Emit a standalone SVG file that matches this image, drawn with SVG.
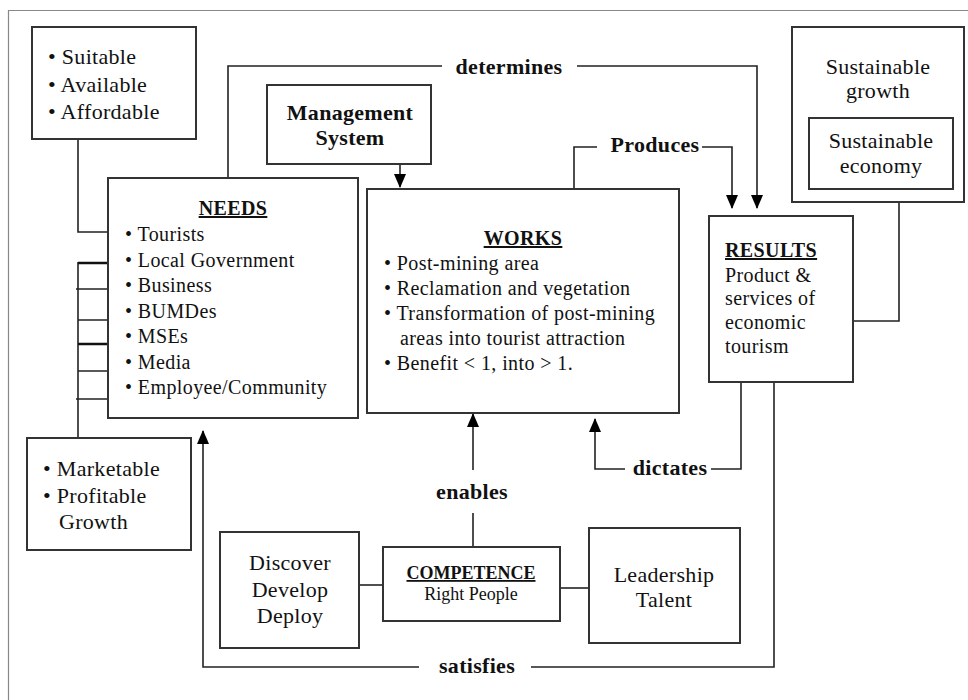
<svg xmlns="http://www.w3.org/2000/svg" width="968" height="700" viewBox="0 0 968 700">
<defs>
<marker id="arr" markerUnits="userSpaceOnUse" markerWidth="12" markerHeight="14" refX="6" refY="13" orient="auto-start-reverse" viewBox="0 0 12 14">
<path d="M0,0 L12,0 L6,13 Z" fill="#000"/>
</marker>
<marker id="up" markerUnits="userSpaceOnUse" markerWidth="12" markerHeight="14" refX="6" refY="1" viewBox="0 0 12 14">
<path d="M6,0 L12,14 L0,14 Z" fill="#000"/>
</marker>
<marker id="down" markerUnits="userSpaceOnUse" markerWidth="12" markerHeight="14" refX="6" refY="13" viewBox="0 0 12 14">
<path d="M0,0 L12,0 L6,14 Z" fill="#000"/>
</marker>
</defs>
<style>
.box{fill:#fff;stroke:#333;stroke-width:2}
.ln{fill:none;stroke:#222;stroke-width:1.6}
.thick{fill:none;stroke:#111;stroke-width:2.6}
text{font-family:"Liberation Serif","Times New Roman",serif;fill:#111}
.t20{font-size:20px;letter-spacing:0.4px}
.t22{font-size:22px;letter-spacing:0.3px}
.t18{font-size:18px}
.b{font-weight:bold}
.lab{font-size:22px;font-weight:bold;letter-spacing:0.3px}
.c{text-anchor:middle}
.u{text-decoration:underline}
</style>
<rect width="968" height="700" fill="#fff"/>
<path d="M8.5,700 V10.5 H968" fill="none" stroke="#888" stroke-width="1.2"/>

<g id="connectors">
<path class="ln" d="M228,178 V66 H442"/>
<path class="ln" d="M577,66 H757 V208" marker-end="url(#down)"/>
<path class="ln" d="M574,189 V147 H597"/>
<path class="ln" d="M702,147 H732 V208" marker-end="url(#down)"/>
<path class="ln" d="M400,164 V187" marker-end="url(#down)"/>
<path class="ln" d="M78,139 V232 H125"/>
<path class="ln" d="M78,262 V438"/>
<path class="thick" d="M78,263 H128"/>
<path class="ln" d="M76,289 H128"/>
<path class="ln" d="M78,320 H130"/>
<path class="thick" d="M78,344 H128"/>
<path class="ln" d="M78,371 H130"/>
<path class="ln" d="M76,399 H131"/>
<path class="ln" d="M853,321 H899 V202"/>
<path class="ln" d="M741,382 V469 H711"/>
<path class="ln" d="M625,469 H595 V419" marker-end="url(#up)"/>
<path class="ln" d="M774,382 V667 H531"/>
<path class="ln" d="M419,667 H203 V431" marker-end="url(#up)"/>
<path class="ln" d="M473,547 V513"/>
<path class="ln" d="M473,470 V414" marker-end="url(#up)"/>
<path class="ln" d="M359,585 H383"/>
<path class="ln" d="M560,588 H589"/>
<text class="lab c" x="509" y="74">determines</text>
<text class="lab c" x="655" y="152">Produces</text>
<text class="lab c" x="670" y="475">dictates</text>
<text class="lab c" x="472" y="499">enables</text>
<text class="lab c" x="477" y="673">satisfies</text>
</g>

<g id="criteria">
<rect class="box" x="32" y="27" width="164" height="112"/>
<text class="t22" x="48" y="64">• Suitable</text>
<text class="t22" x="48" y="92">• Available</text>
<text class="t22" x="48" y="119">• Affordable</text>
</g>

<g id="management">
<rect class="box" x="267" y="85" width="164" height="79"/>
<text class="lab c" x="350" y="120">Management</text>
<text class="lab c" x="350" y="145">System</text>
</g>

<g id="needs">
<rect class="box" x="108" y="178" width="250" height="240"/>
<text class="t20 b c u" x="233" y="215">NEEDS</text>
<text class="t20" x="125" y="241">• Tourists</text>
<text class="t20" x="125" y="266.5">• Local Government</text>
<text class="t20" x="125" y="292">• Business</text>
<text class="t20" x="125" y="317.5">• BUMDes</text>
<text class="t20" x="125" y="343">• MSEs</text>
<text class="t20" x="125" y="368.5">• Media</text>
<text class="t20" x="125" y="394">• Employee/Community</text>
</g>

<g id="works">
<rect class="box" x="367" y="189" width="312" height="224"/>
<text class="t20 b c u" x="523" y="245">WORKS</text>
<text class="t20" x="384" y="270">• Post-mining area</text>
<text class="t20" x="384" y="295">• Reclamation and vegetation</text>
<text class="t20" x="384" y="320">• Transformation of post-mining</text>
<text class="t20" x="400" y="345">areas into tourist attraction</text>
<text class="t20" x="384" y="370">• Benefit &lt; 1, into &gt; 1.</text>
</g>

<g id="results">
<rect class="box" x="709" y="216" width="144" height="166"/>
<text class="t20 b u" x="725" y="257">RESULTS</text>
<text class="t20" x="725" y="282">Product &amp;</text>
<text class="t20" x="725" y="305">services of</text>
<text class="t20" x="725" y="329">economic</text>
<text class="t20" x="725" y="353">tourism</text>
</g>

<g id="sustainable-growth">
<rect class="box" x="792" y="27" width="172" height="175"/>
<text class="t22 c" x="878" y="74">Sustainable</text>
<text class="t22 c" x="878" y="98">growth</text>
</g>

<g id="sustainable-economy">
<rect class="box" x="809" y="118" width="144" height="71"/>
<text class="t22 c" x="881" y="148">Sustainable</text>
<text class="t22 c" x="881" y="173">economy</text>
</g>

<g id="market">
<rect class="box" x="27" y="438" width="164" height="112"/>
<text class="t22" x="43" y="476">• Marketable</text>
<text class="t22" x="43" y="503">• Profitable</text>
<text class="t22" x="59" y="529">Growth</text>
</g>

<g id="discover">
<rect class="box" x="220" y="532" width="139" height="116"/>
<text class="t22 c" x="290" y="570">Discover</text>
<text class="t22 c" x="290" y="597">Develop</text>
<text class="t22 c" x="290" y="623">Deploy</text>
</g>

<g id="competence">
<rect class="box" x="383" y="547" width="177" height="74"/>
<text class="t18 b c u" x="471" y="579">COMPETENCE</text>
<text class="t18 c" x="471" y="600">Right People</text>
</g>

<g id="leadership">
<rect class="box" x="589" y="528" width="151" height="115"/>
<text class="t22 c" x="664" y="582">Leadership</text>
<text class="t22 c" x="664" y="607">Talent</text>
</g>
</svg>
